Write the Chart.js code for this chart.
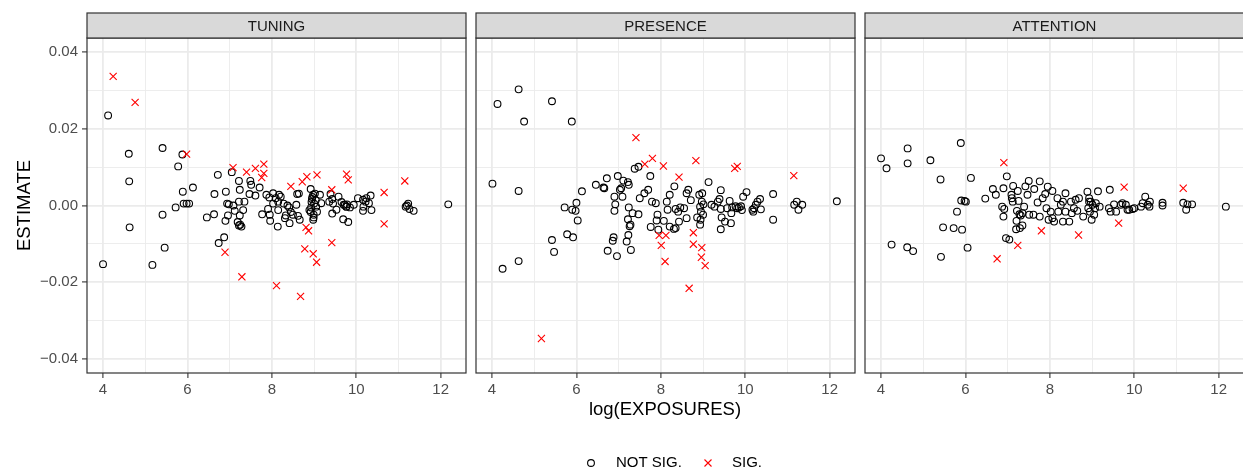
<!DOCTYPE html>
<html><head><meta charset="utf-8">
<script src="https://cdn.jsdelivr.net/npm/chart.js@4.4.1/dist/chart.umd.min.js"></script>
<style>
html,body{margin:0;padding:0;background:#fff;overflow:hidden}
#wrap{position:relative;width:1243px;height:476px;overflow:hidden;background:#fff}
canvas{position:absolute;left:0;top:0}
</style></head><body>
<div id="wrap">
<canvas id="c1" width="1300" height="476"></canvas>
<canvas id="c2" width="1300" height="476"></canvas>
<canvas id="c3" width="1300" height="476"></canvas>
</div>
<script>
const panels = ['TUNING','PRESENCE','ATTENTION'];
const xMajorTicks = [4,6,8,10,12];
const xMinorTicks = [5,7,9,11];
const yMajorTicks = [-0.04,-0.02,0,0.02,0.04];
const yMinorTicks = [-0.03,-0.01,0.01,0.03];
const legendLabels = ['NOT SIG.','SIG.'];
const xTitle = 'log(EXPOSURES)';
const yTitle = 'ESTIMATE';

const tuningNotSigX = [4.12,5.41,4.61,5.88,5.78,4.62,6.13,5.89,5.91,5.98,6.04,5.72,5.41,6.46,4.63,5.46,4.00,5.17,
6.72,6.64,6.91,7.05,7.22,7.24,7.49,7.51,7.71,7.47,7.61,6.94,6.98,7.09,7.22,7.35,7.12,7.32,6.63,6.96,7.24,6.90,7.19,7.25,7.28,7.22,6.87,6.74,
7.87,7.94,8.03,8.17,8.21,8.09,8.03,8.15,8.28,8.37,8.41,8.58,7.91,8.15,7.77,7.95,8.33,8.45,8.50,8.62,7.96,8.31,8.42,8.66,8.14,
8.60,8.64,8.92,8.98,9.02,9.14,8.95,9.04,8.94,9.17,8.89,8.92,8.99,9.07,8.98,8.99,
9.39,9.43,9.58,9.36,9.45,9.65,9.73,9.77,9.53,9.43,9.69,9.81,
9.70,9.78,9.76,9.85,9.94,10.04,10.16,10.24,10.34,10.30,10.17,10.16,10.36,10.22,
11.23,11.17,11.26,11.36,11.20,12.18,
8.96,9.00,8.93,9.05];
const tuningNotSigY = [0.0235,0.0150,0.0135,0.0133,0.0102,0.0063,0.0047,0.0036,0.0005,0.0005,0.0005,-0.0005,-0.0024,-0.0031,-0.0057,-0.0110,-0.0153,-0.0155,
0.0080,0.0030,0.0036,0.0087,0.0064,0.0041,0.0064,0.0054,0.0047,0.0030,0.0026,0.0005,0.0003,0.0000,0.0010,0.0010,-0.0014,-0.0012,-0.0023,-0.0026,-0.0026,-0.0040,-0.0043,-0.0050,-0.0055,-0.0052,-0.0083,-0.0098,
0.0028,0.0021,0.0032,0.0028,0.0023,0.0019,0.0005,0.0010,0.0005,0.0000,-0.0005,0.0002,-0.0009,-0.0012,-0.0023,-0.0024,-0.0026,-0.0017,-0.0024,-0.0027,-0.0040,-0.0033,-0.0046,-0.0037,-0.0055,
0.0030,0.0031,0.0043,0.0028,0.0031,0.0028,0.0017,0.0014,0.0009,0.0006,-0.0012,-0.0017,-0.0024,-0.0016,-0.0037,-0.0031,
0.0030,0.0017,0.0023,0.0010,0.0005,0.0009,0.0002,-0.0003,-0.0011,-0.0021,-0.0036,-0.0043,
0.0002,0.0003,-0.0003,-0.0005,0.0002,0.0019,0.0015,0.0019,0.0026,0.0006,-0.0003,-0.0014,-0.0012,0.0010,
0.0005,-0.0003,-0.0009,-0.0014,0.0000,0.0003,
0.0022,0.0005,-0.0005,-0.0003];
const tuningSigX = [4.24,4.76,5.98,7.08,7.40,7.61,7.81,7.81,7.76,8.45,8.72,8.83,9.07,9.42,9.77,9.81,10.66,11.15,8.81,8.87,8.78,8.98,9.06,9.42,6.89,7.29,8.11,8.68,10.66];
const tuningSigY = [0.0337,0.0269,0.0134,0.0099,0.0087,0.0097,0.0108,0.0084,0.0073,0.0050,0.0062,0.0075,0.0080,0.0041,0.0082,0.0067,0.0034,0.0064,-0.0057,-0.0066,-0.0113,-0.0126,-0.0148,-0.0097,-0.0122,-0.0186,-0.0209,-0.0237,-0.0048];

const presenceNotSigX = [4.63,4.13,5.42,4.76,5.89,4.01,4.63,6.13,6.46,6.00,5.72,5.90,5.98,6.03,5.42,5.78,5.92,5.47,4.63,4.25,
6.64,6.66,6.72,6.98,7.11,7.22,7.24,7.38,7.47,7.75,7.03,7.06,6.90,6.92,6.90,7.09,7.50,7.61,7.70,7.79,
7.88,7.24,7.33,7.47,7.22,7.28,7.26,7.23,7.19,7.29,6.88,6.86,6.74,6.96,7.76,7.92,7.90,7.94,8.07,8.14,
8.21,8.32,8.16,8.21,8.31,8.35,8.35,8.41,8.46,8.55,8.43,8.61,8.65,8.61,8.71,8.91,8.98,8.97,9.01,8.93,
8.95,9.00,8.86,8.94,8.93,9.13,9.20,9.27,9.42,9.35,9.39,9.42,9.44,9.52,9.42,9.63,9.67,9.57,9.69,9.77,9.81,9.66,
9.85,9.92,9.90,9.95,10.03,10.17,10.21,10.19,10.25,10.29,10.35,10.37,10.66,10.66,11.16,11.22,11.26,11.35,12.17];
const presenceNotSigY = [0.0303,0.0265,0.0272,0.0219,0.0219,0.0057,0.0038,0.0037,0.0054,0.0007,-0.0005,-0.0011,-0.0014,-0.0039,-0.0090,-0.0075,-0.0083,-0.0121,-0.0145,-0.0165,
0.0047,0.0045,0.0071,0.0077,0.0065,0.0061,0.0054,0.0096,0.0101,0.0077,0.0041,0.0045,0.0023,0.0003,-0.0014,0.0023,0.0019,0.0032,0.0041,0.0010,
0.0006,-0.0005,-0.0020,-0.0023,-0.0036,-0.0050,-0.0054,-0.0077,-0.0094,-0.0116,-0.0083,-0.0092,-0.0118,-0.0132,-0.0056,-0.0024,-0.0039,-0.0063,-0.0040,0.0010,
0.0028,0.0050,-0.0011,-0.0055,-0.0061,-0.0059,-0.0009,-0.0016,-0.0005,-0.0007,-0.0042,-0.0033,0.0041,0.0032,0.0014,0.0028,0.0032,0.0010,0.0003,-0.0003,
-0.0016,-0.0024,-0.0031,-0.0037,-0.0050,0.0061,0.0002,-0.0003,0.0040,0.0010,0.0017,-0.0009,-0.0031,-0.0042,-0.0062,0.0012,-0.0020,-0.0007,-0.0005,-0.0002,-0.0007,-0.0046,
-0.0005,-0.0012,-0.0002,0.0023,0.0035,-0.0011,-0.0007,-0.0016,0.0002,0.0010,0.0017,-0.0010,0.0030,-0.0037,0.0002,0.0010,-0.0011,0.0002,0.0011];
const presenceSigX = [5.17,7.41,7.62,7.80,8.06,8.43,8.83,9.75,9.81,11.15,7.96,8.12,8.01,8.10,8.77,8.77,8.97,8.96,9.05,8.67];
const presenceSigY = [-0.0347,0.0177,0.0108,0.0123,0.0103,0.0074,0.0117,0.0097,0.0102,0.0078,-0.0078,-0.0078,-0.0104,-0.0146,-0.0071,-0.0101,-0.0110,-0.0135,-0.0157,-0.0216];

const attentionNotSigX = [4.00,4.13,4.63,4.63,5.17,5.89,5.41,6.13,6.47,5.90,5.98,6.01,5.80,5.47,5.72,5.92,4.25,4.62,4.76,5.42,6.05,
6.65,6.72,6.90,6.98,7.13,7.09,7.10,7.12,7.24,7.26,7.42,7.50,7.47,7.63,7.76,7.83,7.89,7.95,8.06,7.71,
6.87,6.92,6.90,7.22,7.28,7.31,7.35,7.39,7.21,7.35,7.29,7.20,6.96,7.04,7.51,7.61,7.76,7.92,8.02,8.06,
7.97,8.10,8.18,8.26,8.31,8.37,8.20,8.31,8.46,8.50,8.61,8.69,8.57,8.65,8.52,8.37,8.79,8.89,8.93,8.97,
9.01,8.91,8.95,8.99,9.05,9.07,9.09,8.93,9.14,9.18,9.42,9.40,9.44,9.57,9.52,
9.68,9.72,9.80,9.84,9.88,9.96,10.00,10.16,10.20,10.26,10.32,10.37,10.36,10.67,10.67,11.16,11.23,11.26,11.37,12.17];
const attentionNotSigY = [0.0123,0.0097,0.0149,0.0110,0.0118,0.0163,0.0068,0.0072,0.0018,0.0013,0.0012,0.0010,-0.0016,-0.0057,-0.0059,-0.0063,-0.0102,-0.0109,-0.0119,-0.0134,-0.0110,
0.0043,0.0028,0.0045,0.0076,0.0051,0.0028,0.0019,0.0010,0.0038,0.0012,0.0050,0.0064,0.0028,0.0043,0.0063,0.0019,0.0030,0.0049,0.0038,0.0008,
-0.0003,-0.0009,-0.0029,-0.0014,-0.0023,-0.0026,-0.0020,-0.0003,-0.0040,-0.0052,-0.0059,-0.0062,-0.0085,-0.0089,-0.0024,-0.0024,-0.0029,-0.0007,-0.0016,-0.0033,
-0.0037,-0.0042,0.0019,0.0002,0.0010,0.0032,-0.0016,-0.0042,-0.0042,0.0010,0.0015,0.0019,-0.0007,-0.0014,-0.0020,-0.0016,-0.0029,0.0036,0.0019,0.0010,
0.0002,-0.0007,-0.0016,-0.0037,-0.0024,-0.0007,0.0006,0.0010,0.0037,-0.0003,0.0041,-0.0007,-0.0016,-0.0016,0.0003,
0.0002,0.0006,0.0002,-0.0011,-0.0011,-0.0009,-0.0007,-0.0003,0.0006,0.0023,0.0002,0.0010,-0.0003,0.0007,0.0000,0.0007,-0.0011,0.0003,0.0003,-0.0003];
const attentionSigX = [6.91,6.75,7.24,7.80,8.68,9.76,9.63,11.16];
const attentionSigY = [0.0112,-0.0139,-0.0104,-0.0066,-0.0077,0.0048,-0.0046,0.0045];

const FONT = '"Liberation Sans", Arial, Helvetica, sans-serif';
Chart.defaults.font.family = FONT;

const CANVAS_W = 1300;
const PANEL_TOP = 38, PANEL_BOTTOM = 373, PANEL_W = 379, STRIP_TOP = 13;
const PANEL_LEFTS = [87, 476, 865];
const X_MIN = 3.62, X_MAX = 12.6, Y_MIN = -0.0437, Y_MAX = 0.0437;

function zip(xs, ys){ return xs.map((x,i)=>({x:x, y:ys[i]})); }
const isMajX = v => xMajorTicks.some(t=>Math.abs(t-v)<1e-9);
const isMajY = v => yMajorTicks.some(t=>Math.abs(t-v)<1e-9);
function fmtY(v){ const s = Math.abs(v).toFixed(2); return v < -1e-9 ? '\u2212'+s : s; }

function drawCross(ctx, x, y, h){
  ctx.beginPath();
  ctx.moveTo(x-h,y-h); ctx.lineTo(x+h,y+h);
  ctx.moveTo(x-h,y+h); ctx.lineTo(x+h,y-h);
  ctx.stroke();
}

const panelDeco = {
  id: 'panelDeco',
  afterDatasetsDraw(chart, args, opts){
    const ctx = chart.ctx, a = chart.chartArea;
    ctx.save();
    ctx.strokeStyle = '#333333'; ctx.lineWidth = 1.2;
    ctx.strokeRect(a.left, a.top, a.right-a.left, a.bottom-a.top);
    ctx.fillStyle = '#d9d9d9';
    ctx.fillRect(a.left, STRIP_TOP, a.right-a.left, a.top-STRIP_TOP);
    ctx.strokeRect(a.left, STRIP_TOP, a.right-a.left, a.top-STRIP_TOP);
    ctx.fillStyle = '#1a1a1a';
    ctx.font = '15px ' + FONT;
    ctx.textAlign = 'center'; ctx.textBaseline = 'middle';
    ctx.fillText(opts.label, (a.left+a.right)/2, (STRIP_TOP+a.top)/2 + 1);
    if (opts.global) {
      ctx.fillStyle = '#000000';
      ctx.font = '18.5px ' + FONT;
      ctx.fillText(xTitle, (PANEL_LEFTS[0] + 1243)/2, 410);
      ctx.save();
      ctx.translate(25, (PANEL_TOP+PANEL_BOTTOM)/2);
      ctx.rotate(-Math.PI/2);
      ctx.fillText(yTitle, 0, 0);
      ctx.restore();
      const ly = 463;
      ctx.lineWidth = 1.1;
      ctx.strokeStyle = '#000000';
      ctx.beginPath(); ctx.arc(591, ly, 3.4, 0, Math.PI*2); ctx.stroke();
      ctx.strokeStyle = '#ff0000';
      drawCross(ctx, 708, ly, 3.5);
      ctx.fillStyle = '#000000';
      ctx.font = '15px ' + FONT;
      ctx.textAlign = 'left';
      ctx.fillText(legendLabels[0], 616, ly);
      ctx.fillText(legendLabels[1], 732, ly);
    }
    ctx.restore();
  }
};

function makeChart(id, idx, nx, ny, sx, sy){
  const first = idx === 0;
  const left = PANEL_LEFTS[idx];
  const right = left + PANEL_W;
  return new Chart(document.getElementById(id), {
    type: 'scatter',
    data: { datasets: [
      { label: legendLabels[1], data: zip(sx, sy), pointStyle: 'crossRot', pointRadius: 5, borderColor: '#ff0000', backgroundColor: '#ff0000', borderWidth: 1.1, order: 0 },
      { label: legendLabels[0], data: zip(nx, ny), pointStyle: 'circle', pointRadius: 3.4, borderColor: '#000000', backgroundColor: 'rgba(0,0,0,0)', borderWidth: 1.1, order: 1 }
    ]},
    options: {
      responsive: false, animation: false, devicePixelRatio: 1, events: [],
      layout: { padding: { left: first ? 0 : left, right: CANVAS_W - right, top: PANEL_TOP, bottom: 0 } },
      plugins: { legend: { display: false }, tooltip: { enabled: false }, panelDeco: { label: panels[idx], global: first } },
      scales: {
        x: {
          type: 'linear', min: X_MIN, max: X_MAX,
          afterBuildTicks: s => { s.ticks = xMajorTicks.concat(xMinorTicks).sort((a,b)=>a-b).map(v=>({value:v})); },
          afterFit: s => { s.height = 476 - PANEL_BOTTOM; },
          border: { display: false },
          grid: {
            color: '#ebebeb',
            lineWidth: c => isMajX(c.tick.value) ? 1.8 : 0.9,
            drawTicks: true, tickLength: 5, tickWidth: 1.1,
            tickColor: c => isMajX(c.tick.value) ? '#333333' : 'rgba(0,0,0,0)'
          },
          ticks: { autoSkip: false, maxRotation: 0, padding: 3, color: '#4d4d4d', font: { size: 15 },
            callback: v => isMajX(v) ? String(v) : '' }
        },
        y: {
          type: 'linear', min: Y_MIN, max: Y_MAX,
          afterBuildTicks: s => { s.ticks = yMajorTicks.concat(yMinorTicks).sort((a,b)=>a-b).map(v=>({value:v})); },
          afterFit: s => { s.width = first ? PANEL_LEFTS[0] : 0; },
          border: { display: false },
          grid: {
            color: '#ebebeb',
            lineWidth: c => isMajY(c.tick.value) ? 1.8 : 0.9,
            drawTicks: first, tickLength: 5, tickWidth: 1.1,
            tickColor: c => isMajY(c.tick.value) ? '#333333' : 'rgba(0,0,0,0)'
          },
          ticks: { display: first, autoSkip: false, padding: 4, color: '#4d4d4d', font: { size: 15 },
            callback: v => isMajY(v) ? fmtY(v) : '' }
        }
      }
    },
    plugins: [panelDeco]
  });
}

makeChart('c1', 0, tuningNotSigX, tuningNotSigY, tuningSigX, tuningSigY);
makeChart('c2', 1, presenceNotSigX, presenceNotSigY, presenceSigX, presenceSigY);
makeChart('c3', 2, attentionNotSigX, attentionNotSigY, attentionSigX, attentionSigY);
</script>
</body></html>
